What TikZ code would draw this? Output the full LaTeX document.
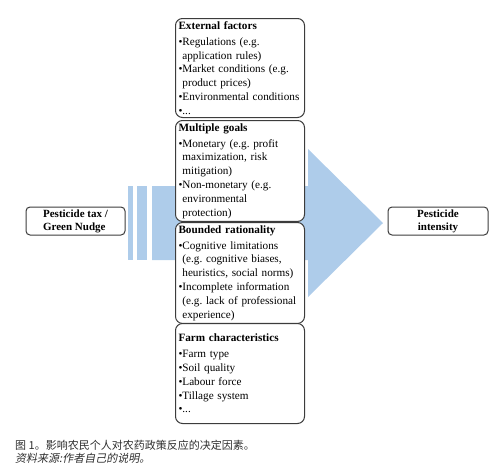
\documentclass[tikz,border=0pt]{standalone}
\usepackage{fontspec}
\setmainfont{Liberation Serif}
\newfontfamily\cjk{Noto Sans CJK SC}
\newfontfamily\cjkit[FakeSlant=0.2]{Noto Sans CJK SC}
\usepackage{tikz}
\usepackage{xcolor}
\usetikzlibrary{positioning}
\definecolor{frame}{HTML}{3C3C3C}
\definecolor{arrowblue}{HTML}{AECCEA}
\definecolor{captext}{HTML}{2E2E2E}
\newcommand{\bul}{\textbullet}
\newcommand{\ind}{\phantom{\textbullet}}
\tikzset{
  factorbox/.style={draw=frame,fill=white,line width=1pt,rounded corners=7pt,
                    anchor=north west,text width=123pt,inner sep=3pt,align=left,
                    font=\fontsize{11.2}{13.8}\selectfont},
  endbox/.style={draw=frame,fill=white,line width=1pt,rounded corners=4pt,
                 minimum width=99pt,minimum height=28pt,inner sep=2pt,
                 font=\fontsize{11}{13}\selectfont\bfseries},
  captxt/.style={anchor=west,inner sep=0pt,text=captext,
                 font=\fontsize{11}{13}\selectfont}
}

\begin{document}
\begin{tikzpicture}[x=1pt,y=-1pt]
    \useasboundingbox (0,0) rectangle (500,466);
    % big arrow behind the boxes
    \fill[arrowblue] (128,186) rectangle (133,260);
    \fill[arrowblue] (137,186) rectangle (147,260);
    \fill[arrowblue] (152,186) -- (308,186) -- (308,149) -- (383,223)
      -- (308,297) -- (308,260) -- (152,260) -- cycle;
    \node[factorbox,minimum height=99pt] (ext) at (175,18)
      {\textbf{External factors}\\[2pt]
       \bul Regulations (e.g.\\\ind application rules)\\
       \bul Market conditions (e.g.\\\ind product prices)\\
       \bul Environmental conditions\\
       \bul ...};
    \node[factorbox,minimum height=95pt] (goals) at (175,120)
      {\textbf{Multiple goals}\\[2pt]
       \bul Monetary (e.g.\ profit\\\ind maximization, risk\\\ind mitigation)\\
       \bul Non-monetary (e.g.\\\ind environmental\\\ind protection)};
    \node[factorbox,minimum height=96pt] (bounded) at (175,222)
      {\textbf{Bounded rationality}\\[2pt]
       \bul Cognitive limitations\\\ind (e.g.\ cognitive biases,\\\ind heuristics, social norms)\\
       \bul Incomplete information\\\ind (e.g.\ lack of professional\\\ind experience)};
    \node[factorbox,minimum height=100pt] (farm) at (175,323)
      {\textbf{Farm characteristics}\\[2pt]
       \bul Farm type\\
       \bul Soil quality\\
       \bul Labour force\\
       \bul Tillage system\\
       \bul ...\\[12pt]};
    \node[endbox,align=left] (policy) at (75.5,221) {Pesticide tax /\\Green Nudge};
    \node[endbox,align=center,minimum width=100pt] (outcome) at (438,221) {Pesticide\\intensity};
    % caption
    \node[captxt] (cap1) at (15,445) {\cjk 图 1。影响农民个人对农药政策反应的决定因素。};
    \node[captxt] (cap2) at (15,458) {\cjkit 资料来源:作者自己的说明。};
\end{tikzpicture}
\end{document}
